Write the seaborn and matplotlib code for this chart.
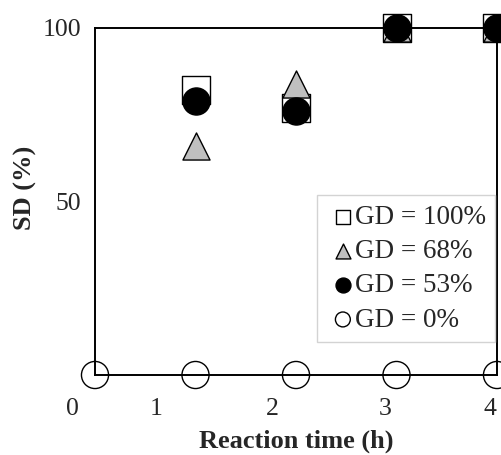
import numpy as np
import pandas as pd
import seaborn as sns
import matplotlib.pyplot as plt

sns.set_style("white")
plt.rcParams['font.family'] = ['Liberation Serif', 'DejaVu Serif']

# Data (SD % vs reaction time)
time_all = [0, 1, 2, 3, 4]
time_gd = [1, 2, 3, 4]
sd_gd100 = [82, 77, 100, 100]
sd_gd68 = [66, 84, 100, 100]
sd_gd53 = [79, 76, 100, 100]
sd_gd0 = [0, 0, 0, 0, 0]

series_labels = ['GD = 100%', 'GD = 68%', 'GD = 53%', 'GD = 0%']

# x tick labels as they sit in the original (not aligned to the data)
xtick_labels = ['0', '1', '2', '3', '4']
xtick_pos = [-0.22, 0.61, 1.76, 2.89, 3.93]

df = pd.concat([
    pd.DataFrame({'time': time_gd, 'sd': sd_gd100, 'series': series_labels[0]}),
    pd.DataFrame({'time': time_gd, 'sd': sd_gd68, 'series': series_labels[1]}),
    pd.DataFrame({'time': time_gd, 'sd': sd_gd53, 'series': series_labels[2]}),
    pd.DataFrame({'time': time_all, 'sd': sd_gd0, 'series': series_labels[3]}),
])

styles = {
    'GD = 100%': dict(marker='s', facecolor='white', edgecolor='black'),
    'GD = 68%': dict(marker='^', facecolor='#bfbfbf', edgecolor='black'),
    'GD = 53%': dict(marker='o', facecolor='black', edgecolor='black'),
    'GD = 0%': dict(marker='o', facecolor='none', edgecolor='black'),
}

fig = plt.figure(figsize=(5.01, 4.55), dpi=100)
ax = fig.add_axes([95 / 501, 1 - 375 / 455, 402 / 501, 347 / 455])

for name in series_labels:
    st = styles[name]
    sub = df[df['series'] == name]
    sns.scatterplot(data=sub, x='time', y='sd', ax=ax, marker=st['marker'],
                    s=19.5 ** 2, color=st['facecolor'], edgecolor=st['edgecolor'],
                    linewidth=1.0, label=name, clip_on=False, zorder=3)

ax.set_xlim(0, 4)
ax.set_ylim(0, 100)
ax.set_xticks([])
ax.set_yticks([50, 100])
ax.tick_params(axis='y', length=0, pad=10, labelsize=18.5)

for lab, pos in zip(xtick_labels, xtick_pos):
    ax.text(pos, -0.098, lab, transform=ax.get_xaxis_transform(),
            ha='center', va='center', fontsize=18.5)

for sp in ax.spines.values():
    sp.set_visible(True)
    sp.set_color('black')
    sp.set_linewidth(1.4)

ax.set_xlabel('Reaction time (h)', fontsize=19, fontweight='bold')
ax.set_ylabel('SD (%)', fontsize=19, fontweight='bold')
ax.xaxis.set_label_coords(0.5, -0.158)
ax.yaxis.set_label_coords(-0.145, 0.54)

leg = ax.legend(loc='lower right', bbox_to_anchor=(0.995, 0.095), borderaxespad=0,
                fontsize=19.5, markerscale=0.55, handlelength=1.2, handletextpad=-0.17,
                labelspacing=0.34, borderpad=0.35, fancybox=False, framealpha=1,
                edgecolor='#d3d3d3')
leg.get_frame().set_linewidth(1.0)

fig.savefig('out.png', dpi=100)
